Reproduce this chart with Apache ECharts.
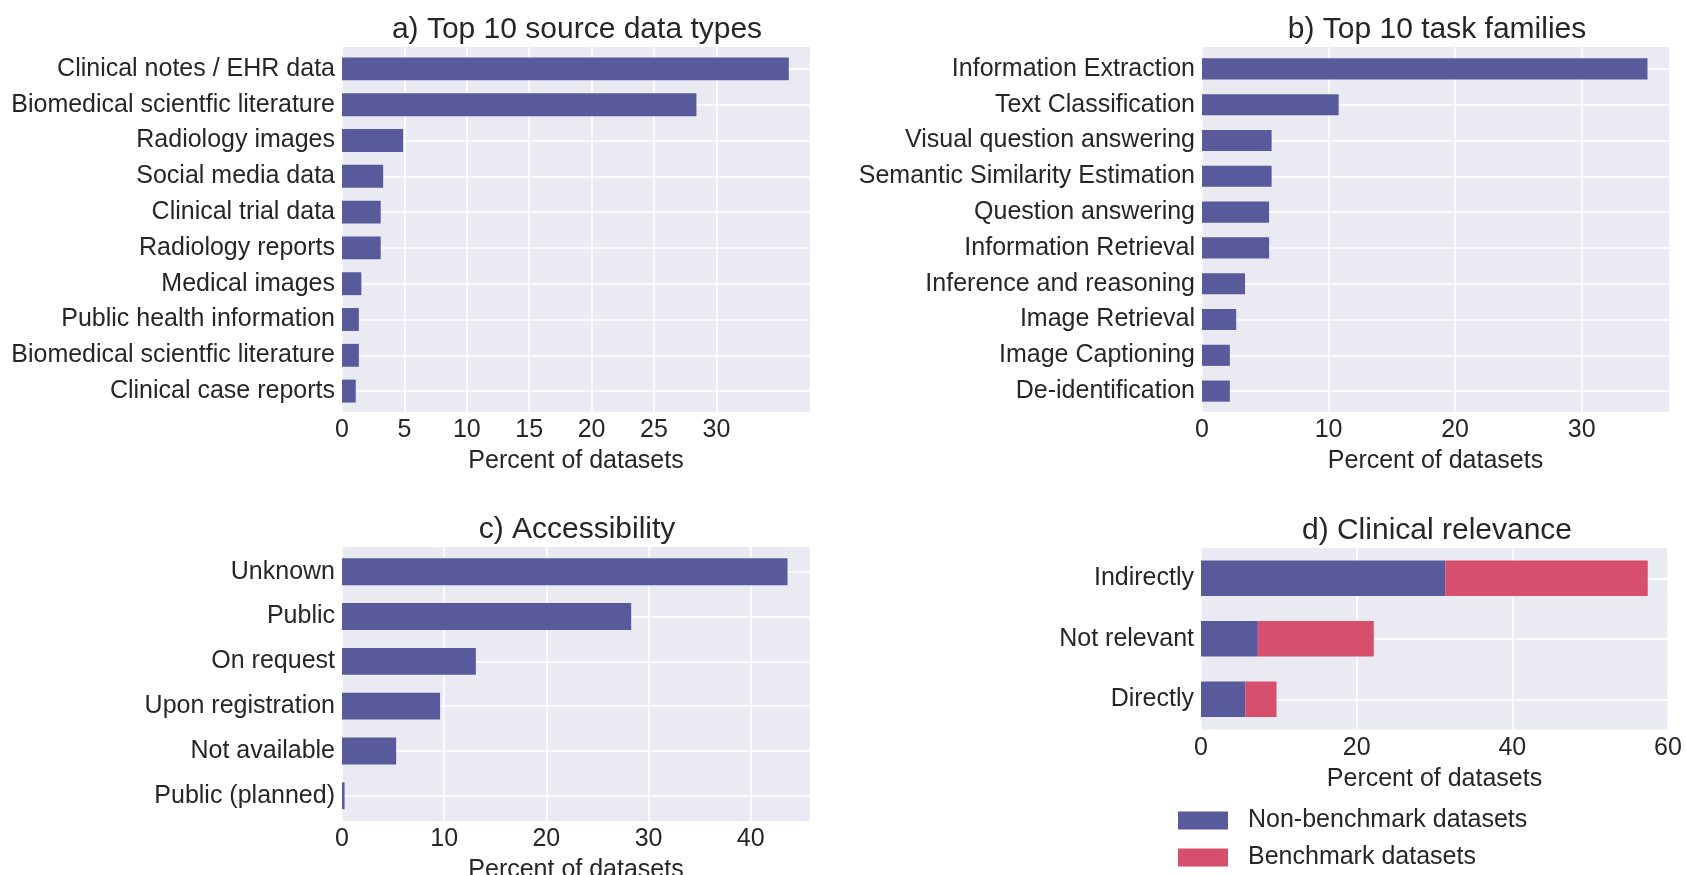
<!DOCTYPE html>
<html><head><meta charset="utf-8">
<script src="https://cdn.jsdelivr.net/npm/echarts@6/dist/echarts.min.js"></script>
<style>html,body{margin:0;padding:0;background:#fff}#c{width:1686px;height:875px}</style>
</head><body><div id="c"></div>
<script>
// ---- data ----
const sourceTypes = ['Clinical notes / EHR data', 'Biomedical scientfic literature', 'Radiology images', 'Social media data', 'Clinical trial data', 'Radiology reports', 'Medical images', 'Public health information', 'Biomedical scientfic literature', 'Clinical case reports'];
const sourceValues = [35.8, 28.4, 4.9, 3.3, 3.1, 3.1, 1.55, 1.35, 1.35, 1.1];
const sourceTicks = [0, 5, 10, 15, 20, 25, 30];

const taskFamilies = ['Information Extraction', 'Text Classification', 'Visual question answering', 'Semantic Similarity Estimation', 'Question answering', 'Information Retrieval', 'Inference and reasoning', 'Image Retrieval', 'Image Captioning', 'De-identification'];
const taskValues = [35.2, 10.8, 5.5, 5.5, 5.3, 5.3, 3.4, 2.7, 2.2, 2.2];
const taskTicks = [0, 10, 20, 30];

const accessCats = ['Unknown', 'Public', 'On request', 'Upon registration', 'Not available', 'Public (planned)'];
const accessValues = [43.6, 28.3, 13.1, 9.6, 5.3, 0.25];
const accessTicks = [0, 10, 20, 30, 40];

const relevanceCats = ['Indirectly', 'Not relevant', 'Directly'];
const nonBenchmark = [31.4, 7.3, 5.7];
const benchmark = [26.0, 14.9, 4.0];
const relevanceTicks = [0, 20, 40, 60];

const titles = ['a) Top 10 source data types', 'b) Top 10 task families', 'c) Accessibility', 'd) Clinical relevance'];
const axisName = 'Percent of datasets';
const legendNames = ['Non-benchmark datasets', 'Benchmark datasets'];

// ---- style ----
const FONT = "'Liberation Sans', Arial, Helvetica, sans-serif";
const TXT = '#262626';
const BLUE = '#585a9c';
const RED = '#d6506e';
const BG = '#eaeaf2';

function grid(l, r, t, b, bg) {
  return {left: l, right: r, top: t, bottom: b, show: !!bg, backgroundColor: bg ? BG : 'transparent',
          borderWidth: 0, containLabel: false, outerBoundsMode: 'none'};
}
function xAx(idx, max, ticks, visible) {
  return {
    type: 'value', gridIndex: idx, min: 0, max: max, interval: ticks[1] - ticks[0], show: visible,
    name: visible ? axisName : '', nameLocation: 'middle', nameGap: 37,
    nameTextStyle: {fontSize: 25, color: TXT, fontFamily: FONT},
    axisLine: {show: false},
    axisTick: {show: false, customValues: ticks},
    axisLabel: {show: visible, customValues: ticks, fontSize: 25, color: TXT, fontFamily: FONT, margin: 6},
    splitLine: {show: visible, lineStyle: {color: '#ffffff', width: 1.5}}
  };
}
function yAx(idx, cats) {
  return {
    type: 'category', gridIndex: idx, data: cats, inverse: true,
    axisLine: {show: false}, axisTick: {show: false},
    axisLabel: {interval: 0, fontSize: 25, color: TXT, fontFamily: FONT, margin: 7},
    splitLine: {show: true, alignWithLabel: true, interval: 0, lineStyle: {color: '#ffffff', width: 1.5}}
  };
}
function emptyY(idx) {
  return {type: 'category', gridIndex: idx, data: [''], show: false, splitLine: {show: false}};
}
function ttl(text, x, y) {
  return {text: text, left: x, top: y, textAlign: 'center', textStyle: {fontSize: 30, fontWeight: 'normal', color: TXT, fontFamily: FONT}};
}
function leg(name, top) {
  return {
    data: [name], orient: 'vertical', left: 1178, top: top, padding: 0,
    itemWidth: 50, itemHeight: 18, icon: 'rect',
    textStyle: {fontSize: 25, color: TXT, fontFamily: FONT, padding: [0, 0, 0, 15]}
  };
}

const chart = echarts.init(document.getElementById('c'), null, {renderer: 'canvas'});
chart.setOption({
  animation: false,
  backgroundColor: '#ffffff',
  textStyle: {fontFamily: FONT},
  title: [
    ttl(titles[0], 572, 10),
    ttl(titles[1], 1432, 10),
    ttl(titles[2], 572, 510),
    ttl(titles[3], 1432, 511)
  ],
  grid: [
    grid(342, 876, 51, 466, false),     // 0: a data
    grid(1202, 17, 51, 466, false),     // 1: b data
    grid(342, 876, 549.3, 56.8, false), // 2: c data
    grid(1201, 18, 548, 145.5, true),   // 3: d
    grid(342, 876, 47, 463, true),      // 4: a background + x axis
    grid(1202, 17, 47, 463, true),      // 5: b background + x axis
    grid(342, 876, 547, 54, true)       // 6: c background + x axis
  ],
  xAxis: [
    xAx(0, 37.5, sourceTicks, false),
    xAx(1, 36.9, taskTicks, false),
    xAx(2, 45.8, accessTicks, false),
    xAx(3, 60, relevanceTicks, true),
    xAx(4, 37.5, sourceTicks, true),
    xAx(5, 36.9, taskTicks, true),
    xAx(6, 45.8, accessTicks, true)
  ],
  yAxis: [
    yAx(0, sourceTypes),
    yAx(1, taskFamilies),
    yAx(2, accessCats),
    yAx(3, relevanceCats),
    emptyY(4),
    emptyY(5),
    emptyY(6)
  ],
  legend: [leg(legendNames[0], 808), leg(legendNames[1], 845)],
  series: [
    {type: 'bar', xAxisIndex: 0, yAxisIndex: 0, data: sourceValues, barWidth: '64%', itemStyle: {color: BLUE}, z: 3},
    {type: 'bar', xAxisIndex: 1, yAxisIndex: 1, data: taskValues, barWidth: '59%', itemStyle: {color: BLUE}, z: 3},
    {type: 'bar', xAxisIndex: 2, yAxisIndex: 2, data: accessValues, barWidth: '60%', itemStyle: {color: BLUE}, z: 3},
    {name: legendNames[0], type: 'bar', xAxisIndex: 3, yAxisIndex: 3, stack: 'rel', data: nonBenchmark, barWidth: '59%', itemStyle: {color: BLUE}},
    {name: legendNames[1], type: 'bar', xAxisIndex: 3, yAxisIndex: 3, stack: 'rel', data: benchmark, barWidth: '59%', itemStyle: {color: RED}}
  ]
});
</script></body></html>
